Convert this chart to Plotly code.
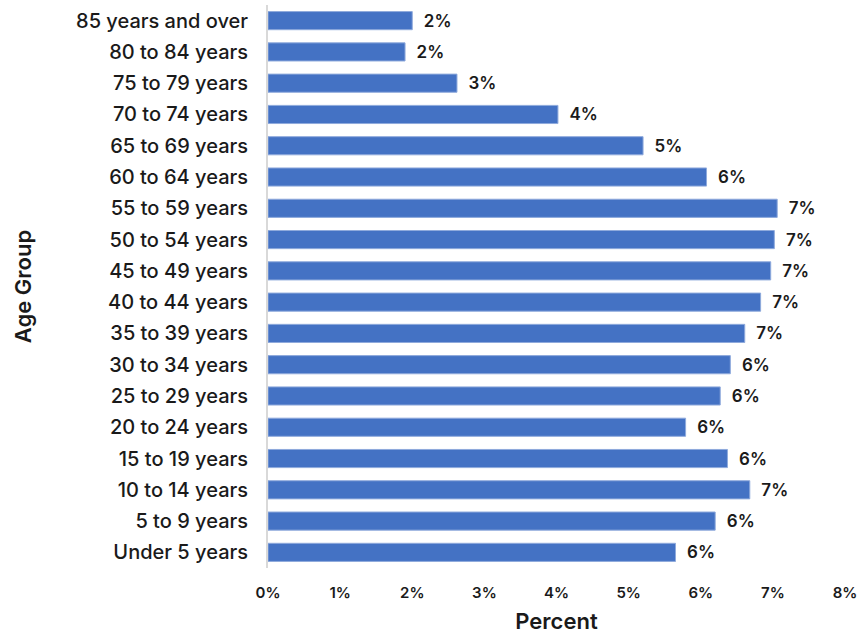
import plotly.graph_objects as go

age_groups = [
    "Under 5 years", "5 to 9 years", "10 to 14 years", "15 to 19 years",
    "20 to 24 years", "25 to 29 years", "30 to 34 years", "35 to 39 years",
    "40 to 44 years", "45 to 49 years", "50 to 54 years", "55 to 59 years",
    "60 to 64 years", "65 to 69 years", "70 to 74 years", "75 to 79 years",
    "80 to 84 years", "85 years and over",
]
percent = [
    5.65, 6.2, 6.68, 6.37,
    5.79, 6.27, 6.41, 6.61,
    6.83, 6.97, 7.02, 7.06,
    6.08, 5.2, 4.02, 2.62,
    1.9, 2.0,
]
labels = ["  {:.0f}%".format(p) for p in percent]
x_ticks = [0, 1, 2, 3, 4, 5, 6, 7, 8]

font_family = "Inter, 'Open Sans', sans-serif"

fig = go.Figure()
fig.add_trace(
    go.Bar(
        y=age_groups,
        x=percent,
        orientation='h',
        marker=dict(color='#4472C4', line=dict(color='#8FAADC', width=1)),
        width=0.58,
        text=labels,
        textposition='outside',
        constraintext='none',
        textfont=dict(family=font_family, size=17, color='#1a1a1a', weight=600),
        cliponaxis=False,
        hoverinfo='skip',
    )
)
fig.update_layout(
    width=859,
    height=634,
    margin=dict(l=268, r=14, t=5, b=66),
    plot_bgcolor='white',
    paper_bgcolor='white',
    showlegend=False,
    font=dict(family=font_family, color='#1a1a1a'),
    xaxis=dict(
        range=[0, 8],
        tickvals=x_ticks,
        ticktext=["{}%".format(t) for t in x_ticks],
        tickfont=dict(size=15, weight=600),
        showgrid=False,
        zeroline=False,
        showline=False,
        ticks='',
        ticklabelstandoff=14,
        automargin=False,
        title=dict(text='Percent', font=dict(size=22, weight=600), standoff=14),
    ),
    yaxis=dict(
        categoryorder='array',
        categoryarray=age_groups,
        tickfont=dict(size=20, weight=500),
        showgrid=False,
        showline=True,
        linecolor='#d9d9d9',
        linewidth=2,
        ticks='',
        ticklabelstandoff=14,
        automargin=False,
        title=dict(text='Age Group', font=dict(size=22, weight=600), standoff=38),
        range=[-0.5, 17.5],
    ),
)
# drop the default body margin so the figure fills the window exactly
fig.write_html(
    "out.html",
    config={'displayModeBar': False},
    post_script="document.body.style.margin='0';document.body.style.overflow='hidden';",
)
